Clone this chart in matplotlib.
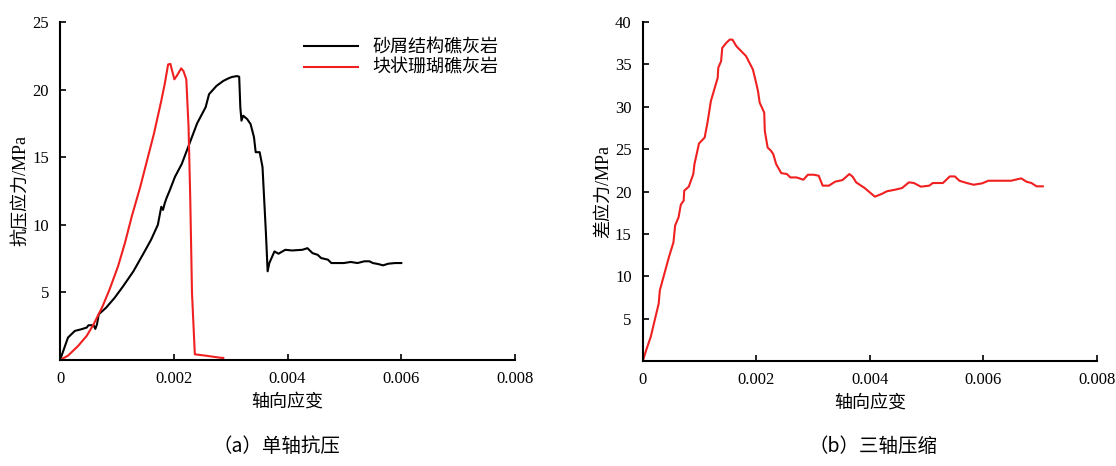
import matplotlib.pyplot as plt
import numpy as np

plt.rcParams['font.family'] = ['Liberation Serif', 'Noto Sans CJK SC']

# (a) uniaxial compression - sandy-debris reef limestone (black)
strain_a1 = [0, 0.00014, 0.00026, 0.00038, 0.00047, 0.0005, 0.00059, 0.00062, 0.00065,
             0.00068, 0.00081, 0.00096, 0.00111, 0.00129, 0.00147, 0.0016, 0.00172,
             0.00178, 0.00181, 0.00184, 0.00187, 0.00193, 0.00202, 0.00214, 0.00223,
             0.00232, 0.00241, 0.00256, 0.00262, 0.00275, 0.00287, 0.00296, 0.00302,
             0.00311, 0.00315, 0.00317, 0.00319, 0.00322, 0.00329, 0.00335, 0.00341,
             0.00344, 0.00351, 0.00356, 0.00359, 0.00362, 0.00365, 0.00368, 0.00377,
             0.00384, 0.00396, 0.00408, 0.00426, 0.00435, 0.00444, 0.00453, 0.00459,
             0.00471, 0.00477, 0.00499, 0.00511, 0.00523, 0.00535, 0.00544, 0.0055,
             0.00559, 0.00568, 0.00577, 0.00589, 0.006]
stress_a1 = [0, 1.66, 2.15, 2.28, 2.4, 2.57, 2.57, 2.3, 2.64,
             3.38, 3.87, 4.6, 5.46, 6.56, 7.9, 8.89, 10.0,
             11.33, 11.1, 11.58, 11.95, 12.56, 13.54, 14.5, 15.5,
             16.5, 17.5, 18.7, 19.66, 20.27, 20.64, 20.83, 20.93,
             21.0, 20.95, 18.68, 17.7, 18.07, 17.82, 17.45, 16.48,
             15.37, 15.37, 14.27, 11.82, 9.38, 6.56, 7.17, 8.03,
             7.86, 8.15, 8.1, 8.15, 8.27, 7.9, 7.78, 7.54,
             7.42, 7.17, 7.17, 7.25, 7.17, 7.3, 7.3, 7.17,
             7.1, 7.0, 7.12, 7.17, 7.17]

# (a) massive coral reef limestone (red)
strain_a2 = [0, 0.00014, 0.00032, 0.00047, 0.00059, 0.00075, 0.00087, 0.00102, 0.00114,
             0.00126, 0.00141, 0.00153, 0.00165, 0.00178, 0.00184, 0.0019, 0.00194,
             0.00201, 0.00205, 0.00213, 0.00217, 0.00222, 0.00226, 0.00229, 0.00232,
             0.00237, 0.00256, 0.00281, 0.00287]
stress_a2 = [0, 0.32, 1.05, 1.79, 2.64, 3.99, 5.21, 6.93, 8.64,
             10.6, 12.8, 14.76, 16.72, 19.17, 20.4, 21.86, 21.9,
             20.76, 21.0, 21.57, 21.37, 20.76, 17.2, 11.82, 4.97,
             0.42, 0.32, 0.17, 0.15]

# (b) triaxial compression
strain_b = [0, 0.00006, 0.00014, 0.00021, 0.00028, 0.0003, 0.00038, 0.00046, 0.00054,
            0.00057, 0.00063, 0.00067, 0.00072, 0.00073, 0.00081, 0.00089, 0.00091,
            0.00099, 0.00109, 0.00114, 0.0012, 0.00132, 0.00133, 0.00138, 0.0014,
            0.00147, 0.00153, 0.00158, 0.00165, 0.00182, 0.00194, 0.00199, 0.00203,
            0.00206, 0.00214, 0.00215, 0.0022, 0.00226, 0.0023, 0.00235, 0.00244,
            0.00254, 0.0026, 0.00271, 0.00283, 0.00291, 0.00301, 0.0031, 0.00317,
            0.00328, 0.00339, 0.00352, 0.00364, 0.0037, 0.00376, 0.00391, 0.004,
            0.00409, 0.00421, 0.0043, 0.00445, 0.00457, 0.00469, 0.00478, 0.0049,
            0.00505, 0.00511, 0.00529, 0.00541, 0.0055, 0.00558, 0.00571, 0.00583,
            0.00598, 0.00609, 0.00649, 0.00667, 0.00676, 0.00685, 0.00694, 0.00705]
stress_b = [0, 1.29, 2.86, 4.82, 6.78, 8.34, 10.3, 12.26, 14.0,
            16.0, 16.96, 18.45, 18.92, 20.1, 20.57, 22.06, 23.23,
            25.66, 26.37, 28.13, 30.68, 33.42, 34.6, 35.38, 36.94,
            37.53, 37.92, 37.92, 37.14, 35.97, 34.4, 33.03, 31.85,
            30.48, 29.3, 27.15, 25.19, 24.8, 24.4, 23.23, 22.17,
            22.06, 21.66, 21.66, 21.39, 21.98, 21.98, 21.86, 20.69,
            20.69, 21.16, 21.35, 22.06, 21.74, 21.08, 20.41, 19.9,
            19.39, 19.71, 20.02, 20.22, 20.41, 21.08, 21.0, 20.57,
            20.69, 21.0, 21.0, 21.78, 21.78, 21.27, 21.0, 20.8,
            20.96, 21.27, 21.27, 21.55, 21.16, 21.0, 20.61, 20.61]

xticks = [0, 0.002, 0.004, 0.006, 0.008]
xticklabels = ['0', '0.002', '0.004', '0.006', '0.008']

fig = plt.figure(figsize=(11.16, 4.66), dpi=100)
ax1 = fig.add_axes([0.0538, 0.2275, 0.4077, 0.7253])
ax2 = fig.add_axes([0.576, 0.2253, 0.4067, 0.7275])


def style(ax, ymax, ystep):
    ax.set_xlim(0, 0.008)
    ax.set_ylim(0, ymax)
    ax.set_xticks(xticks)
    ax.set_xticklabels(xticklabels)
    ax.set_yticks(np.arange(ystep, ymax + 1, ystep))
    ax.spines['top'].set_visible(False)
    ax.spines['right'].set_visible(False)
    for s in ['left', 'bottom']:
        ax.spines[s].set_linewidth(1.5)
    ax.tick_params(direction='in', length=4, width=1.2, labelsize=12, pad=8)
    ax.set_xlabel('轴向应变', fontsize=13, family=['Noto Sans CJK SC'], labelpad=4)


ax1.plot(strain_a1, stress_a1, color='black', lw=1.5, label='砂屑结构礁灰岩')
ax1.plot(strain_a2, stress_a2, color='#f02020', lw=1.5, label='块状珊瑚礁灰岩')
style(ax1, 25, 5)
ax1.set_ylabel('抗压应力/MPa', fontsize=13, labelpad=2)
leg = ax1.legend(loc='upper left', bbox_to_anchor=(0.5, 1.0), frameon=False,
                 handlelength=3, handletextpad=0.8, labelspacing=0.15,
                 prop={'family': ['Noto Sans CJK SC'], 'size': 13})

ax2.plot(strain_b, stress_b, color='#f02020', lw=1.5)
style(ax2, 40, 5)
ax2.set_ylabel('差应力/MPa', fontsize=13, labelpad=2)

fig.text(0.248, 0.03, '（a）单轴抗压', ha='center', fontsize=14, family=['Noto Sans CJK SC'])
fig.text(0.782, 0.03, '（b）三轴压缩', ha='center', fontsize=14, family=['Noto Sans CJK SC'])

fig.savefig('out.png', dpi=100)
